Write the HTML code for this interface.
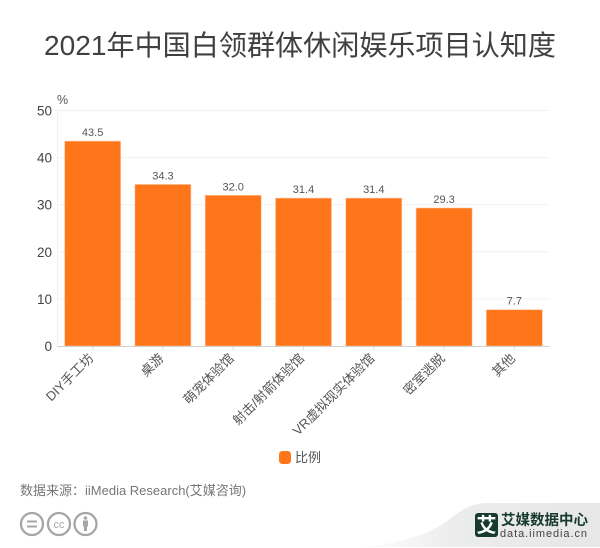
<!DOCTYPE html>
<html>
<head>
<meta charset="utf-8">
<style>
html,body{margin:0;padding:0;background:#fff;}
#wrap{position:relative;width:600px;height:548px;overflow:hidden;}
svg{display:block;font-family:"Liberation Sans","Noto Sans CJK SC",sans-serif;}
</style>
</head>
<body>
<div id="wrap">
<svg id="chart" width="600" height="548" viewBox="0 0 600 548">
  <defs>
    <linearGradient id="fg" x1="0" y1="0" x2="1" y2="0">
      <stop offset="0" stop-color="#f4f5f4" stop-opacity="0.2"/>
      <stop offset="0.4" stop-color="#ebeceb"/>
      <stop offset="1" stop-color="#e6e7e6"/>
    </linearGradient>
  </defs>
  <text x="300" y="55" text-anchor="middle" font-size="28.100" fill="#404040">2021年中国白领群体休闲娱乐项目认知度</text>
  <g id="grid"></g>
  <g id="bars"></g>
  <g id="axis"></g>
  <text x="57" y="104" font-size="12.500" fill="#555">%</text>

  <g>
    <rect x="279" y="451" width="12" height="13" rx="3.500" fill="#ff7519"/>
    <text x="295" y="462" font-size="13" fill="#555">比例</text>
  </g>

  <text x="20" y="495" font-size="13" fill="#777">数据来源：iiMedia Research(艾媒咨询)</text>

  <g fill="none" stroke="#a6a6a6" stroke-width="2.300">
    <g>
      <circle cx="32" cy="524" r="11"/>
      <path d="M27 521.500h10M27 526.500h10" stroke-width="2"/>
    </g>
    <g>
      <circle cx="59" cy="524" r="11"/>
      <text x="59" y="528" text-anchor="middle" font-size="11" fill="#a6a6a6" stroke="none">cc</text>
    </g>
    <g>
      <circle cx="85.500" cy="524" r="11"/>
      <circle cx="85.500" cy="518" r="1.800" fill="#a6a6a6" stroke="none"/>
      <rect x="83" y="520.500" width="5" height="6" fill="#a6a6a6" stroke="none"/>
      <rect x="84" y="526" width="3" height="5" fill="#a6a6a6" stroke="none"/>
    </g>
  </g>

  <g>
    <path d="M355 547 C 400 545, 430 534, 450 519 C 462 509, 472 503, 490 503 L600 503 L600 547 Z" fill="url(#fg)"/>
    <rect x="475" y="513" width="23" height="24" rx="3" fill="#163a30"/>
    <text x="486.500" y="532" text-anchor="middle" font-size="20" font-weight="700" fill="#fff">艾</text>
    <text x="501" y="525" font-size="14.500" font-weight="700" fill="#163a30" textLength="87">艾媒数据中心</text>
    <text x="500" y="537" font-size="11" fill="#444" textLength="87">data.iimedia.cn</text>
  </g>
</svg>
</div>
<script>
const categories = ['DIY手工坊', '桌游', '萌宠体验馆', '射击/射箭体验馆', 'VR虚拟现实体验馆', '密室逃脱', '其他'];
const seriesValues = [43.5, 34.3, 32.0, 31.4, 31.4, 29.3, 7.7];
const yTicks = [0, 10, 20, 30, 40, 50];

const NS = 'http://www.w3.org/2000/svg';
const plotLeft = 57.5, plotRight = 549.5, plotTop = 110.5, plotBottom = 346;
const yMax = 50;
const band = (plotRight - plotLeft) / categories.length;
const barWidth = 56;
function xCenter(i) { return plotLeft + band * (i + 0.5); }
function yPos(v) { return plotBottom - (v / yMax) * (plotBottom - plotTop); }
function make(tag, attrs, parent) {
  const el = document.createElementNS(NS, tag);
  for (const k in attrs) el.setAttribute(k, attrs[k]);
  parent.appendChild(el);
  return el;
}
const gridG = document.getElementById('grid');
const barsG = document.getElementById('bars');
const axisG = document.getElementById('axis');

yTicks.forEach(function (t) {
  const y = yPos(t);
  if (t !== 0) {
    const g = make('line', {x1: plotLeft, x2: plotRight, y1: y, y2: y, stroke: '#f1f1f1', 'stroke-width': 1}, gridG);
    
    
  }
  const lab = make('text', {x: 52, y: y + 5, 'text-anchor': 'end', 'font-size': 13.5, fill: '#444'}, axisG);
  lab.textContent = t;
  
  
});

const yAxisLine = make('line', {x1: plotLeft, x2: plotLeft, y1: plotTop, y2: plotBottom, stroke: '#f1f1f1', 'stroke-width': 1}, gridG);



categories.forEach(function (c, i) {
  const cx = xCenter(i);
  const top = yPos(seriesValues[i]);
  const r = make('rect', {x: cx - barWidth / 2, y: top, width: barWidth, height: plotBottom - top, fill: '#ff7519', stroke: '#ffc9a3', 'stroke-width': 0.6}, barsG);
  
  

  const val = make('text', {x: cx, y: top - 5, 'text-anchor': 'middle', 'font-size': 11, fill: '#555'}, barsG);
  val.textContent = seriesValues[i].toFixed(1);
  
  

  const tick = make('line', {x1: cx, x2: cx, y1: plotBottom, y2: plotBottom + 4, stroke: '#ddd', 'stroke-width': 1}, axisG);
  
  

  const lab = make('text', {'text-anchor': 'end', 'font-size': 13, fill: '#555', transform: 'translate(' + (cx + 1.5) + ',' + (plotBottom + 13) + ') rotate(-45)'}, axisG);
  lab.textContent = c;
  
  
});

const xAxisLine = make('line', {x1: plotLeft, x2: plotRight, y1: plotBottom + 0.5, y2: plotBottom + 0.5, stroke: '#cfcfcf', 'stroke-width': 1}, axisG);


</script>
</body>
</html>
